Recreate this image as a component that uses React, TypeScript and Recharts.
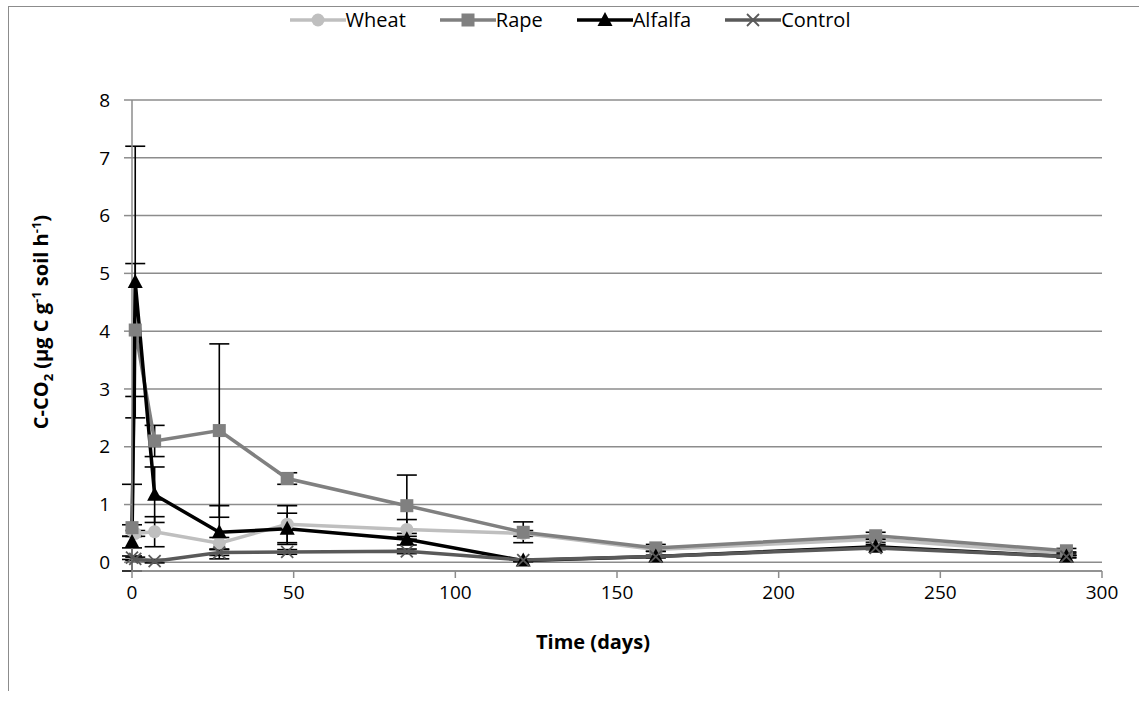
import { CartesianGrid, ErrorBar, Legend, Line, LineChart, XAxis, YAxis } from 'recharts';

const days = [0, 1, 7, 27, 48, 85, 121, 162, 230, 289];

const wheat = [0.55, 0.5, 0.53, 0.33, 0.66, 0.57, 0.5, 0.22, 0.4, 0.15];
const rape = [0.6, 4.02, 2.1, 2.28, 1.45, 0.98, 0.52, 0.25, 0.46, 0.2];
const alfalfa = [0.35, 4.85, 1.17, 0.52, 0.58, 0.4, 0.03, 0.1, 0.27, 0.1];
const control = [0.08, 0.06, 0.02, 0.17, 0.18, 0.19, 0.04, 0.1, 0.25, 0.1];

const wheatErr = [0.1, 0.05, 0.26, 0.1, 0.32, 0.17, 0.05, 0.03, 0.05, 0.03];
const rapeErr = [0.75, 1.15, 0.27, 1.5, 0.1, 0.53, 0.18, 0.06, 0.06, 0.04];
const alfalfaErr = [0.1, 2.35, 0.48, 0.46, 0.27, 0.1, 0.02, 0.02, 0.04, 0.02];
const controlErr = [0.03, 0.03, 0.03, 0.05, 0.04, 0.04, 0.02, 0.02, 0.03, 0.02];

const xTicks = [0, 50, 100, 150, 200, 250, 300];
const yTicks = [0, 1, 2, 3, 4, 5, 6, 7, 8];

const FONT = '"Open Sans", sans-serif';

const series = [
  { key: 'Wheat', color: '#bfbfbf', marker: 'circle' },
  { key: 'Rape', color: '#808080', marker: 'square' },
  { key: 'Alfalfa', color: '#000000', marker: 'triangle' },
  { key: 'Control', color: '#595959', marker: 'x' },
];

const data = days.map((d, i) => ({
  day: d,
  Wheat: wheat[i],
  Rape: rape[i],
  Alfalfa: alfalfa[i],
  Control: control[i],
  WheatErr: wheatErr[i],
  RapeErr: rapeErr[i],
  AlfalfaErr: alfalfaErr[i],
  ControlErr: controlErr[i],
}));

function Marker({ cx, cy, kind, color }: { cx: number; cy: number; kind: string; color: string }) {
  if (kind === 'circle') return <circle cx={cx} cy={cy} r={6.5} fill={color} />;
  if (kind === 'square') return <rect x={cx - 6.5} y={cy - 6.5} width={13} height={13} fill={color} />;
  if (kind === 'triangle')
    return <polygon points={`${cx},${cy - 8} ${cx + 7.5},${cy + 6} ${cx - 7.5},${cy + 6}`} fill={color} />;
  return (
    <g stroke={color} strokeWidth={1.8}>
      <line x1={cx - 6} y1={cy - 6} x2={cx + 6} y2={cy + 6} />
      <line x1={cx - 6} y1={cy + 6} x2={cx + 6} y2={cy - 6} />
    </g>
  );
}

function LegendContent() {
  return (
    <div style={{ display: 'flex', justifyContent: 'center', gap: 34, fontFamily: FONT, fontSize: 20, color: '#000', lineHeight: '24px' }}>
      {series.map((s) => (
        <div key={s.key} style={{ display: 'flex', alignItems: 'center' }}>
          <svg width={56} height={20}>
            <line x1={0} y1={10} x2={56} y2={10} stroke={s.color} strokeWidth={3.5} />
            <Marker cx={28} cy={10} kind={s.marker} color={s.color} />
          </svg>
          <span>{s.key}</span>
        </div>
      ))}
    </div>
  );
}

export default function App() {
  return (
    <div style={{ position: 'fixed', left: 0, top: 0, width: 1139, height: 702, background: '#fff' }}>
      <div
        style={{
          position: 'absolute',
          left: 8,
          top: 6,
          width: 1131,
          height: 684,
          borderTop: '1.5px solid #8c8c8c',
          borderLeft: '1.5px solid #8c8c8c',
        }}
      />
      <LineChart width={1139} height={702} data={data} margin={{ top: 76, right: 37, bottom: 91, left: 82 }}>
        <CartesianGrid horizontal vertical={false} stroke="#8c8c8c" strokeWidth={1.5} />
        <XAxis
          dataKey="day"
          type="number"
          domain={[0, 300]}
          ticks={xTicks}
          height={40}
          axisLine={{ stroke: '#8c8c8c', strokeWidth: 1.5 }}
          tickLine={{ stroke: '#8c8c8c', strokeWidth: 1.5 }}
          tickSize={7}
          tickMargin={8}
          tick={{ fill: '#000', fontSize: 19, fontFamily: FONT }}
        />
        <YAxis
          type="number"
          domain={[0, 8]}
          ticks={yTicks}
          width={50}
          axisLine={{ stroke: '#8c8c8c', strokeWidth: 1.5 }}
          tickLine={{ stroke: '#8c8c8c', strokeWidth: 1.5 }}
          tickSize={8}
          tickMargin={14}
          tick={{ fill: '#000', fontSize: 19, fontFamily: FONT }}
        />
        <Legend verticalAlign="top" align="center" content={LegendContent} wrapperStyle={{ top: 8, left: 40, width: 1060 }} />
        {series.map((s) => (
          <Line
            key={s.key}
            dataKey={s.key}
            stroke={s.color}
            strokeWidth={3.5}
            isAnimationActive={false}
            dot={(p: any) => <Marker key={`${s.key}-${p.index}`} cx={p.cx} cy={p.cy} kind={s.marker} color={s.color} />}
            activeDot={false}
          >
            <ErrorBar dataKey={`${s.key}Err`} direction="y" width={10} stroke="#000" strokeWidth={1.6} />
          </Line>
        ))}
      </LineChart>
      <div
        style={{
          position: 'absolute',
          left: 42,
          top: 322,
          transform: 'translate(-50%, -50%) rotate(-90deg)',
          whiteSpace: 'nowrap',
          fontFamily: FONT,
          fontWeight: 'bold',
          fontSize: 20,
        }}
      >
        C-CO<sub style={{ fontSize: 13 }}>2</sub> (µg C g<sup style={{ fontSize: 13 }}>-1</sup> soil h
        <sup style={{ fontSize: 13 }}>-1</sup>)
      </div>
      <div
        style={{
          position: 'absolute',
          left: 593,
          top: 641,
          transform: 'translate(-50%, -50%)',
          whiteSpace: 'nowrap',
          fontFamily: FONT,
          fontWeight: 'bold',
          fontSize: 20,
        }}
      >
        Time (days)
      </div>
    </div>
  );
}
